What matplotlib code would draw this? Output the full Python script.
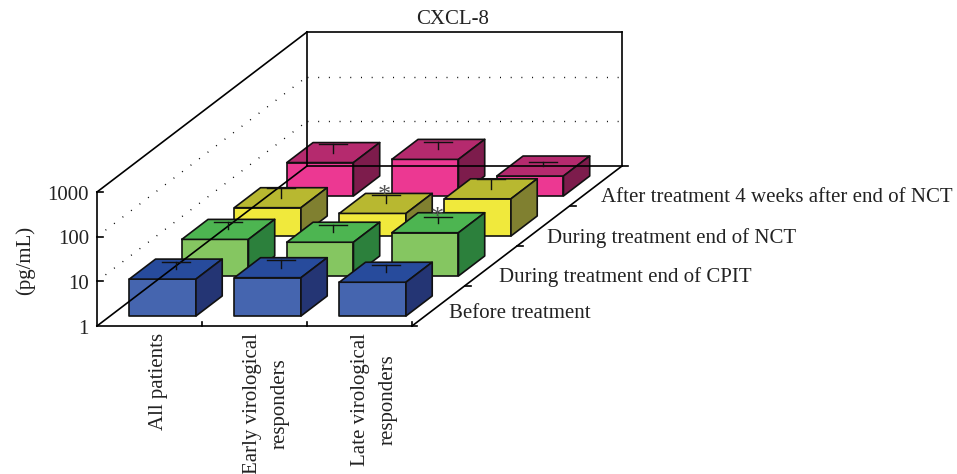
import math

from matplotlib import pyplot as plt
from matplotlib.patches import Polygon

plt.rcParams['font.family'] = ['Liberation Serif', 'DejaVu Serif']

title = "CXCL-8"
ylabel = "(pg/mL)"
groups = ["All patients", "Early virological\nresponders", "Late virological\nresponders"]
phases = ["Before treatment", "During treatment end of CPIT",
          "During treatment end of NCT", "After treatment 4 weeks after end of NCT"]
yticks = [1, 10, 100, 1000]

# bar heights, one list per phase, in pg/mL (log axis)
before = [6.7, 7.2, 5.7]
cpit = [6.6, 5.7, 9.3]
nct = [4.3, 3.2, 6.8]
after = [5.6, 6.6, 2.8]

# top of the error bars
before_err = [9.8, 10.7, 8.4]
cpit_err = [9.5, 8.3, 12.5]
nct_err = [7.2, 4.9, 11.4]
after_err = [8.9, 9.6, 3.4]

# (phase, group) with an asterisk
stars = [(2, 1), (1, 2)]

values = [before, cpit, nct, after]
errors = [before_err, cpit_err, nct_err, after_err]

# front, top, side
colors = [('#4565AF', '#274B9C', '#243574'),
          ('#85C661', '#4DB551', '#2C803C'),
          ('#F0E93C', '#B8B830', '#808030'),
          ('#EC3892', '#B52A6E', '#7D1C4C')]

# oblique box, in pixels of the figure
X0, Y0 = 97, 326
WIDTH = 315
DEPTH_X, DEPTH_Y = 210, 160
HEIGHT = 134
BAR_W = 0.635
BAR_D = 0.5
LW = 1.2
FS = 15


def proj(g, p, v):
    # g in 0..3 along the groups, p in 0..4 along the phases, v in pg/mL
    x = X0 + g * WIDTH / len(groups) + p * DEPTH_X / len(phases)
    y = Y0 - p * DEPTH_Y / len(phases) - math.log10(v) / 3 * HEIGHT
    return x, y


def line(a, b, **kw):
    kw.setdefault('color', 'black')
    kw.setdefault('lw', LW)
    ax.plot([a[0], b[0]], [a[1], b[1]], solid_capstyle='projecting', **kw)


fig = plt.figure(figsize=(9.57, 4.74), dpi=100)
ax = fig.add_axes([0, 0, 1, 1])
ax.set_xlim(0, 957)
ax.set_ylim(474, 0)
ax.axis('off')

# walls and floor
n_g, n_p = len(groups), len(phases)
line(proj(0, 0, 1), proj(0, 0, 1000))
line(proj(0, 0, 1000), proj(0, n_p, 1000))
line(proj(0, n_p, 1000), proj(n_g, n_p, 1000))
line(proj(n_g, n_p, 1000), proj(n_g, n_p, 1))
line(proj(0, n_p, 1), proj(0, n_p, 1000))
line(proj(0, 0, 1), proj(0, n_p, 1))
line(proj(0, n_p, 1), proj(n_g, n_p, 1))
line(proj(n_g, 0, 1), proj(n_g, n_p, 1))
line(proj(0, 0, 1), proj(n_g, 0, 1))

# dotted grid on the two walls
dots = (0, (0.7, 7))
for t in yticks[1:3]:
    line(proj(0, 0, t), proj(0, n_p, t), ls=dots, lw=1.0)
    line(proj(0, n_p, t), proj(n_g, n_p, t), ls=dots, lw=1.0)

# ticks
for t in yticks[1:]:
    x, y = proj(0, 0, t)
    line((x, y), (x + 6, y))
for g in range(1, n_g + 1):
    x, y = proj(g, 0, 1)
    line((x, y), (x, y - 4))
line(proj(n_g, 0, 1), (proj(n_g, 0, 1)[0] + 5, Y0))
for p in range(1, n_p + 1):
    x, y = proj(n_g, p, 1)
    line((x, y), (x + 6, y))

# bars, back row first so the front ones cover them
for p in reversed(range(n_p)):
    front, top, side = colors[p]
    for g in range(n_g):
        v = values[p][g]
        g0, g1 = g + 0.5 - BAR_W / 2, g + 0.5 + BAR_W / 2
        p0, p1 = p + 0.5 - BAR_D / 2, p + 0.5 + BAR_D / 2
        faces = [
            ([proj(g0, p0, 1), proj(g1, p0, 1), proj(g1, p0, v), proj(g0, p0, v)], front),
            ([proj(g0, p0, v), proj(g1, p0, v), proj(g1, p1, v), proj(g0, p1, v)], top),
            ([proj(g1, p0, 1), proj(g1, p1, 1), proj(g1, p1, v), proj(g1, p0, v)], side),
        ]
        for pts, c in faces:
            ax.add_patch(Polygon(pts, closed=True, facecolor=c, edgecolor='#111111',
                                 lw=LW, joinstyle='round'))
        # error bar stands on the middle of the top face
        gm, pm = g + 0.5, p + 0.5
        a = proj(gm, pm, v)
        b = proj(gm, pm, errors[p][g])
        line(a, b, lw=1.0, color='#111111')
        line((b[0] - 14, b[1]), (b[0] + 14, b[1]), lw=1.0, color='#111111')
        if (p, g) in stars:
            ax.text(b[0] - 1, b[1] + 1, '*', fontsize=19, color='#555555',
                    ha='center', va='center')

# texts
ax.text(453, 19, title, fontsize=FS, color='#222222', ha='center', va='center')
ax.text(25, 260, ylabel, fontsize=FS, color='#222222', rotation=90, ha='center', va='center')
for t in yticks:
    ax.text(89, proj(0, 0, t)[1] + 3, str(t), fontsize=FS, color='#222222', ha='right', va='center')
phase_x = [449, 499, 547, 601]
phase_y = [314, 277, 238, 198]
for i in range(n_p):
    ax.text(phase_x[i], phase_y[i], phases[i], fontsize=FS, color='#222222', ha='left', va='center')
group_x = [159, 266, 374]
for i in range(n_g):
    ax.text(group_x[i], 333, groups[i], fontsize=FS, color='#222222', rotation=90,
            ha='center', va='top', ma='center', linespacing=1.6)

plt.savefig('out.png', dpi=100)
